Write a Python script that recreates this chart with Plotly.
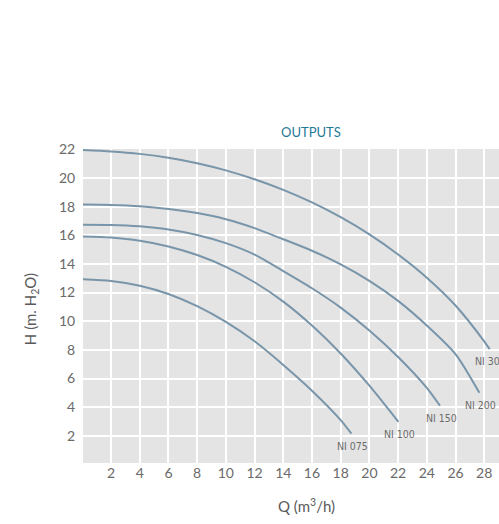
import plotly.graph_objects as go

# Flow Q (m3/h) and head H (m H2O)
q_ni300 = [0, 2, 4, 6, 8, 10, 12, 14, 16, 18, 20, 22, 24, 26, 28, 28.38]
h_ni300 = [21.95, 21.85, 21.68, 21.41, 21.03, 20.53, 19.91, 19.17, 18.29, 17.26, 16.06, 14.66, 13.04, 11.1, 8.6, 8.05]

q_ni200 = [0, 2, 4, 6, 8, 10, 12, 14, 16, 18, 20, 22, 24, 26, 27.66]
h_ni200 = [18.15, 18.12, 18.03, 17.84, 17.55, 17.12, 16.5, 15.72, 14.92, 13.97, 12.82, 11.42, 9.7, 7.7, 5.0]

q_ni150 = [0, 2, 4, 6, 8, 10, 12, 14, 16, 18, 20, 22, 24, 24.92]
h_ni150 = [16.74, 16.72, 16.62, 16.4, 16.02, 15.45, 14.65, 13.5, 12.3, 10.95, 9.35, 7.5, 5.35, 4.1]

q_ni100 = [0, 2, 4, 6, 8, 10, 12, 14, 16, 18, 20, 22.02]
h_ni100 = [15.92, 15.84, 15.62, 15.22, 14.62, 13.8, 12.72, 11.37, 9.7, 7.75, 5.5, 2.98]

q_ni075 = [0, 2, 4, 6, 8, 10, 12, 14, 16, 18, 18.75]
h_ni075 = [12.93, 12.81, 12.48, 11.9, 11.05, 9.95, 8.6, 6.95, 5.15, 3.1, 2.15]

series = [
    ("NI 300", q_ni300, h_ni300),
    ("NI 200", q_ni200, h_ni200),
    ("NI 150", q_ni150, h_ni150),
    ("NI 100", q_ni100, h_ni100),
    ("NI 075", q_ni075, h_ni075),
]

x_ticks = list(range(2, 30, 2))
y_ticks = list(range(2, 24, 2))

LINE = "#7995aa"
TICK = "#6a6a6a"
FONT = "Lato, 'Open Sans', sans-serif"

fig = go.Figure()
for name, q, h in series:
    fig.add_trace(go.Scatter(
        x=q, y=h, mode="lines", name=name,
        line=dict(color=LINE, width=2, shape="spline", smoothing=0.7),
        hoverinfo="skip", showlegend=False,
    ))
    fig.add_annotation(
        x=q[-1], y=h[-1], text=name, showarrow=False,
        xshift=1, yshift=-12,
        font=dict(family="'DejaVu Sans Condensed', 'DejaVu Sans', sans-serif",
                  size=10.5, color="#6c6c6c"),
    )

fig.add_annotation(
    xref="paper", yref="paper", x=0.547, y=1.0, yshift=17, yanchor="middle",
    text="OUTPUTS", showarrow=False,
    font=dict(family=FONT, size=13, color="#1f7a97"),
)
fig.add_annotation(
    xref="paper", yref="paper", x=0.537, y=0, yshift=-42, yanchor="middle",
    text="Q (m<sup>3</sup>/h)", showarrow=False,
    font=dict(family=FONT, size=15, color="#5a5a5a"),
)
fig.add_annotation(
    xref="paper", yref="paper", x=0, xshift=-52, y=0.49, textangle=-90,
    xanchor="center", yanchor="middle",
    text="H (m. H<sub>2</sub>O)", showarrow=False,
    font=dict(family=FONT, size=15, color="#5a5a5a"),
)

fig.update_layout(
    width=499, height=524,
    margin=dict(l=83, r=0, t=149, b=61),
    paper_bgcolor="white",
    plot_bgcolor="#e4e4e4",
    font=dict(family=FONT, color=TICK),
)
fig.update_xaxes(
    range=[0.045, 29.03], tickvals=x_ticks, ticktext=[str(v) for v in x_ticks],
    showgrid=True, gridcolor="white", gridwidth=2, zeroline=False,
    ticks="",
    tickfont=dict(family=FONT, size=14, color=TICK), showline=False,
)
fig.update_yaxes(
    range=[0.105, 22.02], tickvals=y_ticks, ticktext=[str(v) for v in y_ticks],
    showgrid=True, gridcolor="white", gridwidth=2, zeroline=False,
    ticks="outside", ticklen=4, tickcolor="rgba(0,0,0,0)",
    tickfont=dict(family=FONT, size=14, color=TICK), showline=False,
)

fig.write_html(
    "out.html",
    config={"displayModeBar": False},
    post_script=(
        "document.documentElement.style.overflow='hidden';"
        "document.body.style.overflow='hidden';"
        "document.body.style.margin='0';"
    ),
)
